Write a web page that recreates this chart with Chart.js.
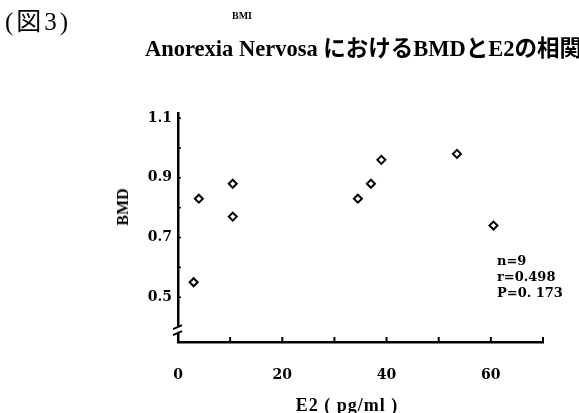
<!DOCTYPE html>
<html>
<head>
<meta charset="utf-8">
<script src="https://cdn.jsdelivr.net/npm/chart.js@4"></script>
<style>
    html, body { margin: 0; padding: 0; background: #fff; }
    #wrap { position: relative; width: 579px; height: 413px; overflow: hidden; }
    #chart { position: absolute; left: 0; top: 0; }
    .txt { position: absolute; white-space: nowrap; color: #000; font-family: "Liberation Serif", "Noto Sans CJK JP", serif; }
    #fig { left: 5px; top: 1px; font-size: 25px; letter-spacing: 3px; }
    #bmi { left: 232px; top: 10px; font-size: 10px; font-weight: bold; }
    #title { left: 145px; top: 30px; font-size: 22.5px; font-weight: bold; }
    #ytitle { left: 123px; top: 207px; font-size: 16px; font-weight: bold; transform: translate(-50%, -50%) rotate(-90deg); }
    #xtitle { left: 347px; top: 405px; font-size: 18px; font-weight: bold; letter-spacing: 1px; transform: translate(-50%, -50%); }
    #stats { left: 497px; top: 253px; font-family: "DejaVu Serif", serif; font-size: 13px; font-weight: bold; line-height: 16px; }
</style>
</head>
<body>
<div id="wrap">
    <canvas id="chart" width="579" height="413"></canvas>
    <div class="txt" id="fig">(図3)</div>
    <div class="txt" id="bmi">BMI</div>
    <div class="txt" id="title">Anorexia Nervosa におけるBMDとE2の相関</div>
    <div class="txt" id="ytitle">BMD</div>
    <div class="txt" id="xtitle">E2 ( pg/ml )</div>
    <div class="txt" id="stats">n=9<br>r=0.498<br>P=0. 173</div>
</div>
<script>
// データ
const e2Values = [3, 4, 10.5, 10.5, 34.5, 37, 39, 53.5, 60.5];
const bmdValues = [0.55, 0.83, 0.88, 0.77, 0.83, 0.88, 0.96, 0.98, 0.74];
const xTickLabels = [0, 20, 40, 60];
const yTickLabels = [0.5, 0.7, 0.9, 1.1];

const tickFont = { family: 'DejaVu Serif', size: 14, weight: 'bold' };

// 内側の目盛りと軸の省略記号を描く
const axisDecor = {
    id: 'axisDecor',
    afterDraw(chart) {
        const ctx = chart.ctx;
        const xs = chart.scales.x;
        const ys = chart.scales.y;
        const area = chart.chartArea;
        ctx.save();
        ctx.strokeStyle = '#000';
        ctx.lineWidth = 2;
        for (let v = 10; v <= 70; v += 10) {
            const px = xs.getPixelForValue(v);
            ctx.beginPath();
            ctx.moveTo(px, area.bottom);
            ctx.lineTo(px, area.bottom - 5);
            ctx.stroke();
        }
        ctx.lineWidth = 1.5;
        for (let v = 0.5; v <= 1.1; v += 0.1) {
            const py = ys.getPixelForValue(v);
            ctx.beginPath();
            ctx.moveTo(area.left, py);
            ctx.lineTo(area.left + 3, py);
            ctx.stroke();
        }
        // 省略記号 (//)
        const yb = ys.getPixelForValue(0.39);
        ctx.fillStyle = '#fff';
        ctx.fillRect(area.left - 3, yb - 4, 6, 6);
        ctx.lineWidth = 2;
        [[-1, -5], [5, 1]].forEach(([a, b]) => {
            ctx.beginPath();
            ctx.moveTo(area.left - 5, yb + b + 4);
            ctx.lineTo(area.left + 4, yb + a - 4);
            ctx.stroke();
        });
        ctx.restore();
    }
};

new Chart(document.getElementById('chart'), {
    type: 'scatter',
    data: {
        datasets: [{
            data: e2Values.map((x, i) => ({ x: x, y: bmdValues[i] })),
            pointStyle: 'rectRot',
            pointRadius: 4,
            borderWidth: 2,
            borderColor: '#000',
            backgroundColor: '#fff'
        }]
    },
    options: {
        responsive: false,
        animation: false,
        clip: false,
        layout: { padding: { top: 113, right: 36, bottom: 0, left: 0 } },
        plugins: {
            legend: { display: false },
            tooltip: { enabled: false }
        },
        scales: {
            x: {
                type: 'linear',
                min: 0,
                max: 70,
                afterFit: scale => { scale.height = 71; },
                afterBuildTicks: scale => { scale.ticks = xTickLabels.map(v => ({ value: v })); },
                grid: { display: false, drawTicks: false },
                border: { display: true, color: '#000', width: 2.5 },
                ticks: { color: '#000', font: tickFont, padding: 25, callback: v => String(v) }
            },
            y: {
                min: 0.35,
                max: 1.117,
                afterFit: scale => { scale.width = 178; },
                afterBuildTicks: scale => { scale.ticks = yTickLabels.map(v => ({ value: v })); },
                grid: { display: false, drawTicks: false },
                border: { display: true, color: '#000', width: 2.5 },
                ticks: { color: '#000', font: tickFont, padding: 6, callback: v => v.toFixed(1) }
            }
        }
    },
    plugins: [axisDecor]
});
</script>
</body>
</html>
